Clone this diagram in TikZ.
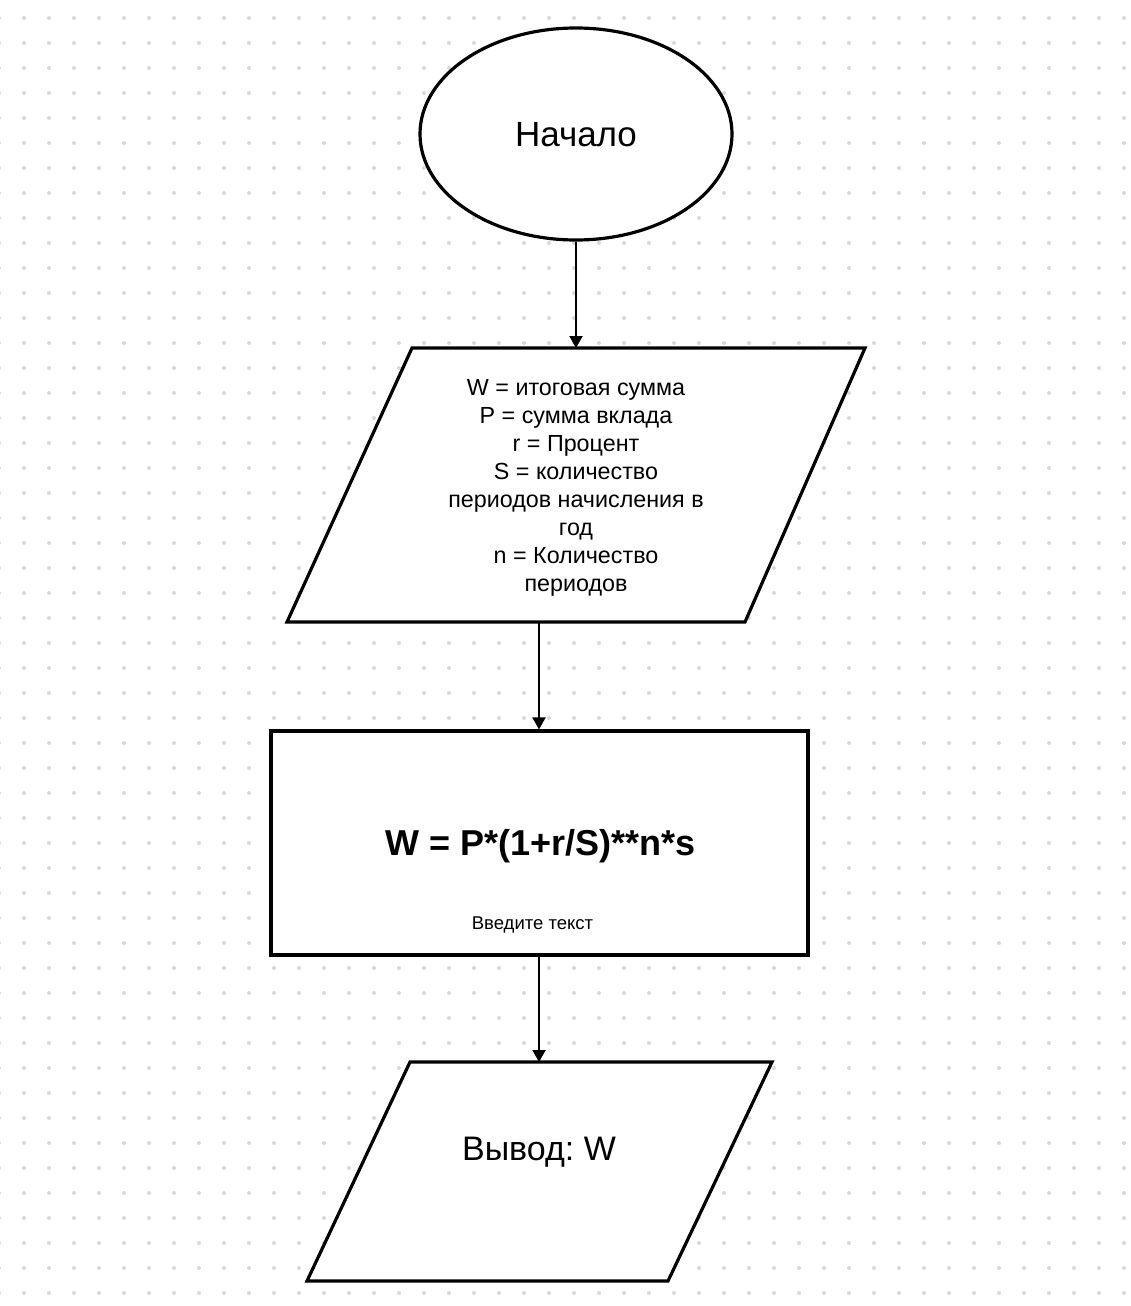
\documentclass[tikz,border=0pt]{standalone}
\usepackage{fontspec}
\setmainfont{Liberation Sans}
\usetikzlibrary{arrows.meta,shapes.geometric}
\definecolor{griddot}{HTML}{D9D9D9}
\frenchspacing
\tikzset{
  shapeline/.style={draw=black,line width=3.2pt,fill=white,line join=miter},
  flowarrow/.style={draw=black,line width=2pt,-{Triangle[width=13pt,length=12pt]}},
  txt/.style={inner sep=0pt,align=center,text=black},
}
\begin{document}
\begin{tikzpicture}[x=1pt,y=-1pt]
  \useasboundingbox (0,0) rectangle (1130,1306);
  \fill[white] (0,0) rectangle (1130,1306);
  % dotted background grid
  \foreach \gx in {-1,24,...,1130}
    \foreach \gy in {18,43,...,1306}
      \fill[griddot] (\gx,\gy) circle (2pt);

  % start terminal
  \node[shapeline,ellipse,minimum width=312pt,minimum height=212pt,inner sep=0pt] (start) at (576,134) {};
  \node[txt,font=\fontsize{35}{40}\selectfont] (starttxt) at (576,135) {Начало};

  % input parallelogram
  \draw[shapeline] (412,348) -- (865,348) -- (745,622) -- (287,622) -- cycle;
  \coordinate (intop) at (576,348);
  \coordinate (inbot) at (539,622);
  \node[txt,font=\fontsize{23.3}{28}\selectfont] (intxt) at (576,488)
    {W = итоговая сумма\\P = сумма вклада\\r = Процент\\S = количество\\периодов начисления в\\год\\n = Количество\\периодов};

  % process box
  \node[shapeline,rectangle,minimum width=537pt,minimum height=224pt,inner sep=0pt] (calc) at (539.5,843) {};
  \node[txt,font=\fontsize{36}{42}\selectfont\bfseries] (formula) at (540.5,846) {W = P*(1+r/S)**n*s};
  \node[txt,font=\fontsize{18.5}{22}\selectfont] (hint) at (532.5,925) {Введите текст};

  % output parallelogram
  \draw[shapeline] (410,1062) -- (772,1062) -- (668,1281) -- (307,1281) -- cycle;
  \coordinate (outtop) at (539,1062);
  \node[txt,font=\fontsize{34}{40}\selectfont] (outtxt) at (539,1152) {Вывод: W};

  % connectors
  \draw[flowarrow] (start.south) -- (intop);
  \draw[flowarrow] (inbot) -- (calc.north -| inbot);
  \draw[flowarrow] (calc.south -| inbot) -- (outtop);
\end{tikzpicture}
\end{document}
